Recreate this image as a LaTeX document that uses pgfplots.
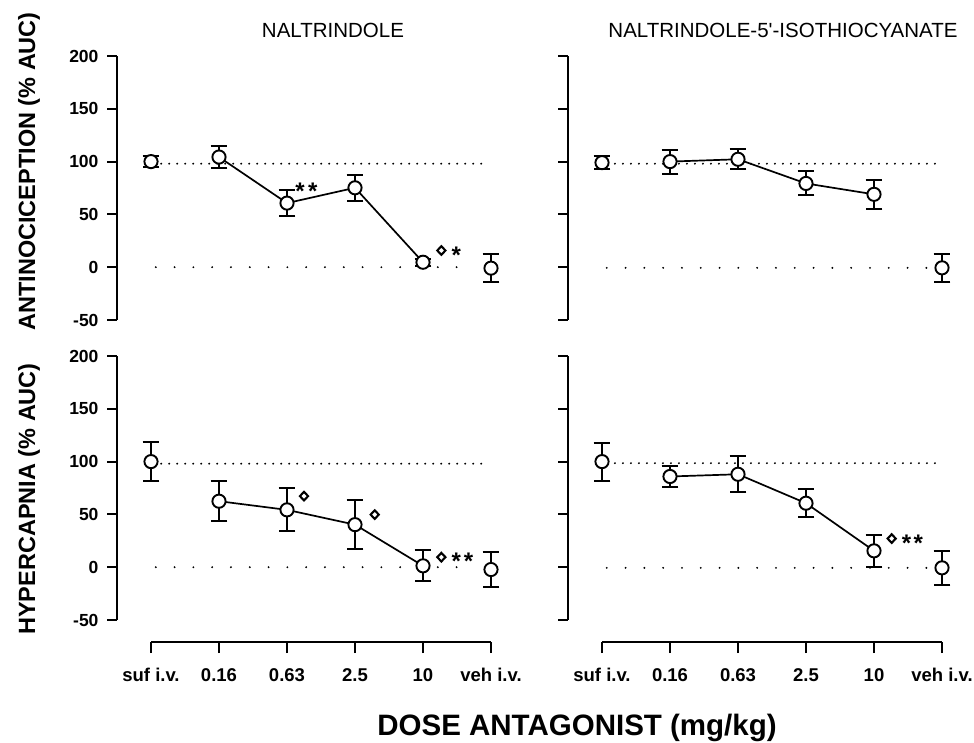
\documentclass[border=0pt]{standalone}
\usepackage{fontspec}
\setmainfont{Liberation Sans}
\usepackage{pgfplots}
\pgfplotsset{compat=1.18}
\usetikzlibrary{shapes.geometric}
\newcommand{\lozat}[2]{\node[draw=black, diamond, line width=2.1pt, inner sep=0pt, minimum width=9pt, minimum height=9.5pt, fill=white] at (axis cs:#1,#2) {};}
\newcommand{\astat}[2]{\node[inner sep=0pt, anchor=base, yshift=-12.5pt, font=\fontsize{24}{26}\selectfont\bfseries] at (axis cs:#1,#2) {*};}
\pgfplotsset{
  panel/.style={scale only axis, width=394.4pt, height=264pt,
    xmin=-0.5, xmax=5.3, ymin=-50, ymax=200,
    hide x axis, axis y line*=left,
    ytick={-50,0,50,100,150,200},
    yticklabels={-50,0,50,100,150,200},
    tick align=outside, major tick length=10pt,
    y axis line style={line width=2pt},
    ytick style={line width=2pt, black},
    yticklabel style={font=\fontsize{17.5}{20}\selectfont\bfseries},
    yticklabel shift=5pt,
    clip=false, anchor=south west},
  xaxisp/.style={scale only axis, width=340pt, height=20pt,
    xmin=0, xmax=5, ymin=0, ymax=1,
    axis x line*=bottom, hide y axis,
    xtick={0,1,2,3,4,5},
    xticklabels={suf i.v., 0.16, 0.63, 2.5, 10, veh i.v.},
    tick align=outside, major tick length=11pt,
    x axis line style={line width=2pt},
    xtick style={line width=2pt, black},
    xticklabel style={font=\fontsize{18.5}{21}\selectfont\bfseries},
    xticklabel shift=12pt,
    anchor=south west},
  dotA/.style={black, line width=2.1pt, line cap=round, dash pattern=on 0pt off 8pt},
  dotB/.style={black, line width=2.1pt, line cap=round, dash pattern=on 0pt off 18.8pt},
  datapt/.style={black, line width=1.7pt, mark=*, mark size=6.6pt,
    mark options={fill=white, draw=black, line width=1.9pt, solid},
    error bars/.cd, y dir=both, y explicit,
    error bar style={line width=2pt, solid},
    error mark options={rotate=90, mark size=8.3pt, line width=2pt},
    /pgfplots/.cd},
}
\begin{document}
\begin{tikzpicture}
\useasboundingbox (0,0) rectangle (974pt,742pt);

% ---------- top left
\begin{axis}[panel, at={(117pt,422pt)}]
\addplot[dotA] coordinates {(0.15,98) (4.88,98)};
\addplot[dotB] coordinates {(0.07,0) (4.75,0)};
\addplot[only marks, datapt] coordinates {(0,100) +- (0,5.2) (5,-0.9) +- (0,13.1)};
\addplot[datapt] coordinates {(1,104.3) +- (0,10.6) (2,60.7) +- (0,12.3) (3,75.2) +- (0,12.3) (4,4.7) +- (0,3.5)};
\astat{2.19}{75.8}\astat{2.38}{75.8}
\lozat{4.27}{15.8}\astat{4.49}{15.8}
\end{axis}

% ---------- bottom left
\begin{axis}[panel, at={(117pt,122pt)}]
\addplot[dotA] coordinates {(0.15,98) (4.88,98)};
\addplot[dotB] coordinates {(0.07,0) (4.75,0)};
\addplot[only marks, datapt] coordinates {(0,100) +- (0,18.3) (5,-2.2) +- (0,16.3)};
\addplot[datapt] coordinates {(1,62.5) +- (0,19) (2,54.3) +- (0,20.3) (3,40.3) +- (0,23.3) (4,1.3) +- (0,14.8)};
\lozat{2.25}{67.3}
\lozat{3.29}{49.8}
\lozat{4.27}{9.5}\astat{4.49}{9.5}\astat{4.67}{9.5}
\end{axis}

% ---------- top right
\begin{axis}[panel, at={(568pt,422pt)}, yticklabels={}]
\addplot[dotA] coordinates {(0.19,98) (4.98,98)};
\addplot[dotB] coordinates {(0.07,-0.6) (4.8,-0.6)};
\addplot[only marks, datapt] coordinates {(0,99) +- (0,6.3) (5,-0.6) +- (0,13.3)};
\addplot[datapt] coordinates {(1,100) +- (0,11.4) (2,102.2) +- (0,9.4) (3,79.3) +- (0,11.4) (4,69) +- (0,13.6)};
\end{axis}

% ---------- bottom right
\begin{axis}[panel, at={(568pt,122pt)}, yticklabels={}]
\addplot[dotA] coordinates {(0.19,98.5) (4.98,98.5)};
\addplot[dotB] coordinates {(0.07,-0.6) (4.8,-0.6)};
\addplot[only marks, datapt] coordinates {(0,100) +- (0,18) (5,-0.6) +- (0,16.3)};
\addplot[datapt] coordinates {(1,85.9) +- (0,10.3) (2,88) +- (0,17) (3,60.6) +- (0,13.3) (4,15.5) +- (0,15.3)};
\lozat{4.26}{27.1}\astat{4.48}{27.1}\astat{4.65}{27.1}
\end{axis}

% ---------- x axes
\begin{axis}[xaxisp, at={(151pt,100pt)}]
\addplot[draw=none] coordinates {(0,0)};
\end{axis}
\begin{axis}[xaxisp, at={(602pt,100pt)}]
\addplot[draw=none] coordinates {(0,0)};
\end{axis}

% ---------- titles and labels
\node[font=\fontsize{20.5}{24}\selectfont, anchor=base] at (333pt,704pt) {NALTRINDOLE};
\node[font=\fontsize{20.5}{24}\selectfont, anchor=base] at (783pt,704pt) {NALTRINDOLE-5\textquotesingle-ISOTHIOCYANATE};
\node[font=\fontsize{23.5}{28}\selectfont\bfseries, rotate=90, anchor=base] at (35pt,570.5pt) {ANTINOCICEPTION (\% AUC)};
\node[font=\fontsize{23.5}{28}\selectfont\bfseries, rotate=90, anchor=base] at (35pt,243pt) {HYPERCAPNIA (\% AUC)};
\node[font=\fontsize{29.5}{34}\selectfont\bfseries, anchor=base] at (577pt,6.5pt) {DOSE ANTAGONIST (mg/kg)};
\end{tikzpicture}
\end{document}
